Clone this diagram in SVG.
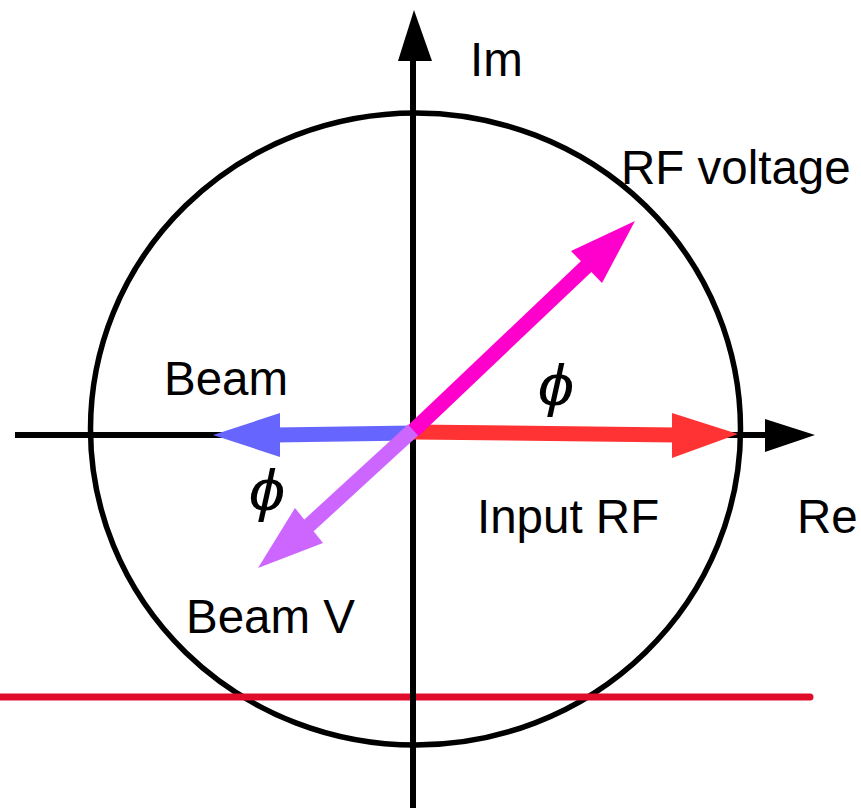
<svg xmlns="http://www.w3.org/2000/svg" width="861" height="808" viewBox="0 0 861 808">
<style>
.lbl{font-family:"Liberation Sans",Arial,sans-serif;font-size:47.5px;fill:#000}
.phi{font-family:"Liberation Sans",Arial,sans-serif;font-style:italic;font-size:57px;fill:#000;text-anchor:middle}
.ax{stroke:#000;stroke-width:6;fill:none}
</style>
<rect width="861" height="808" fill="#fff"/>
<g id="circle"><ellipse cx="415.5" cy="429" rx="325" ry="316" fill="none" stroke="#000" stroke-width="5.5"/></g>
<g id="baseline"><line x1="0" y1="697" x2="810" y2="697" stroke="#e00c2a" stroke-width="7" stroke-linecap="round"/></g>
<g id="connectors">
<g id="axis-re"><line class="ax" x1="15" y1="435" x2="770" y2="435"/><polygon points="765,419 815,435 765,452" fill="#000"/></g>
<g id="axis-im"><line class="ax" x1="413" y1="808" x2="413" y2="55"/><polygon points="398,61 414,10 432,61" fill="#000"/></g>
<g id="beam"><line x1="413" y1="433" x2="275" y2="435" stroke="#6666ff" stroke-width="15"/><polygon points="280,413 213,435 280,457" fill="#6666ff"/></g>
<g id="input-rf"><line x1="413" y1="432" x2="676" y2="435" stroke="#ff3333" stroke-width="15"/><polygon points="672,413 738,434 672,458" fill="#ff3333"/></g>
<g id="rf-voltage"><line x1="413" y1="431" x2="592" y2="261" stroke="#ff00cc" stroke-width="15"/><polygon points="571,251 635,221 602,283" fill="#ff00cc"/></g>
<g id="beam-v"><line x1="413" y1="430" x2="304" y2="530" stroke="#cc66ff" stroke-width="15"/><polygon points="295,508 258,568 323,543" fill="#cc66ff"/></g>
</g>
<g id="labels">
<text class="lbl" x="470" y="76">Im</text>
<text class="lbl" x="621" y="184">RF voltage</text>
<text class="lbl" x="164" y="395">Beam</text>
<text class="lbl" x="477" y="533">Input RF</text>
<text class="lbl" x="797" y="533">Re</text>
<text class="lbl" x="186" y="633">Beam V</text>
<text class="phi" transform="translate(556,405) scale(1.15,1)">ϕ</text>
<text class="phi" transform="translate(267,510) scale(1.15,1)">ϕ</text>
</g>
</svg>
